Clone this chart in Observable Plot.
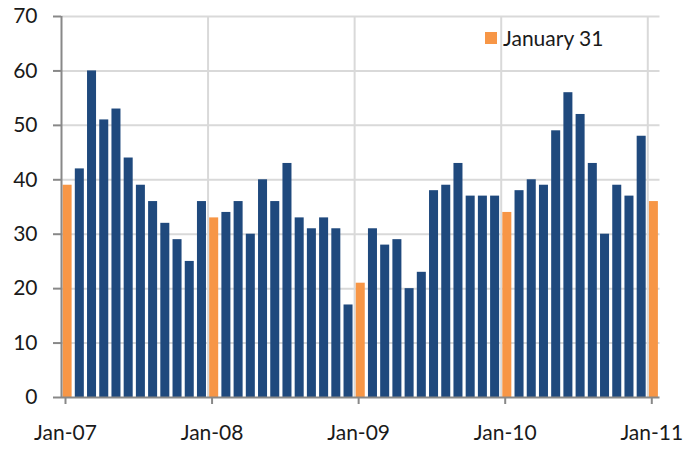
<!DOCTYPE html>
<html><head><meta charset="utf-8">
<script src="https://cdn.jsdelivr.net/npm/d3@7"></script>
<script src="https://cdn.jsdelivr.net/npm/@observablehq/plot@0.6"></script>
<style>
body{margin:0;background:#fff;}
#wrap{position:relative;width:700px;height:451px;font-family:Lato,"Noto Sans",sans-serif;}
#legend{position:absolute;left:485px;top:25px;display:flex;align-items:center;font-size:21px;color:#1a1a1a;}
#legend .sw{width:12px;height:12px;background:#f79646;margin-right:6px;}
</style>
</head><body>
<div id="wrap"><div id="chart"></div><div id="legend"><span class="sw"></span><span>January 31</span></div></div>
<script>
const months = [
  "Jan-07","Feb-07","Mar-07","Apr-07","May-07","Jun-07","Jul-07","Aug-07","Sep-07","Oct-07","Nov-07","Dec-07",
  "Jan-08","Feb-08","Mar-08","Apr-08","May-08","Jun-08","Jul-08","Aug-08","Sep-08","Oct-08","Nov-08","Dec-08",
  "Jan-09","Feb-09","Mar-09","Apr-09","May-09","Jun-09","Jul-09","Aug-09","Sep-09","Oct-09","Nov-09","Dec-09",
  "Jan-10","Feb-10","Mar-10","Apr-10","May-10","Jun-10","Jul-10","Aug-10","Sep-10","Oct-10","Nov-10","Dec-10",
  "Jan-11"
];
const values = [
  39,42,60,51,53,44,39,36,32,29,25,36,
  33,34,36,30,40,36,43,33,31,33,31,17,
  21,31,28,29,20,23,38,39,43,37,37,37,
  34,38,40,39,49,56,52,43,30,39,37,48,
  36
];
const tickLabels = ["Jan-07","Jan-08","Jan-09","Jan-10","Jan-11"];
const yTicks = [0,10,20,30,40,50,60,70];

const data = months.map((m, i) => ({i, month: m, value: values[i], jan: m.startsWith("Jan")}));
const xTicks = tickLabels.map(l => months.indexOf(l));

const chart = Plot.plot({
  width: 700,
  height: 451,
  marginLeft: 61,
  marginRight: 40.5,
  marginTop: 16,
  marginBottom: 54,
  style: {fontFamily: "Lato, 'Noto Sans', sans-serif", fontSize: "21px", color: "#1a1a1a", background: "#fff"},
  x: {domain: [0, months.length]},
  y: {domain: [0, 70]},
  marks: [
    Plot.gridY(yTicks.filter(d => d > 0), {stroke: "#d9d9d9", strokeOpacity: 1, strokeWidth: 2}),
    Plot.gridX(xTicks.filter(d => d > 0), {stroke: "#d9d9d9", strokeOpacity: 1, strokeWidth: 2}),
    Plot.rectY(data, {x1: "i", x2: d => d.i + 1, y1: 0, y2: "value", insetLeft: 1.6, insetRight: 1.6,
      fill: d => d.jan ? "#f79646" : "#1f497d"}),
    Plot.ruleX([0], {stroke: "#888", strokeWidth: 2}),
    Plot.ruleY([0], {stroke: "#888", strokeWidth: 2}),
    Plot.axisY(yTicks, {tickSize: 8, tickPadding: 16, stroke: "#888", strokeWidth: 2, fontSize: 21, fill: "#1a1a1a", label: null}),
    Plot.axisX(xTicks, {tickSize: 7, tickPadding: 21, stroke: "#888", strokeWidth: 2, fontSize: 21, fill: "#1a1a1a", dx: 4,
      tickFormat: i => months[i], label: null})
  ]
});
document.getElementById("chart").appendChild(chart);
</script>
</body></html>
